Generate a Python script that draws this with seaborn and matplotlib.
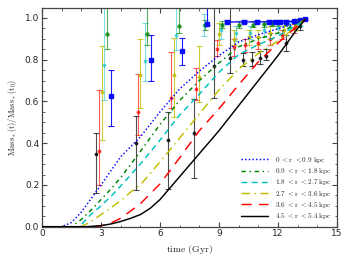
import numpy as np
import pandas as pd
import matplotlib
matplotlib.use('Agg')
import matplotlib.pyplot as plt
import seaborn as sns
from matplotlib.ticker import MultipleLocator

sns.set_style('ticks')
plt.rcParams['mathtext.fontset'] = 'cm'
plt.rcParams['font.family'] = ['DejaVu Sans']

# ---------------- data ----------------
r_edges = [0, 0.9, 1.8, 2.7, 3.6, 4.5, 5.4]

# cumulative stellar mass curves (time in Gyr, fraction)
blue_t = [0, 1.0, 1.5, 2.0, 2.5, 3.0, 4.0, 5.0, 6.0, 7.0, 8.0, 9.0, 10.0, 11.0, 12.0, 13.0, 13.4]
blue_v = [0, 0, 0.02, 0.07, 0.135, 0.2, 0.335, 0.43, 0.55, 0.66, 0.745, 0.82, 0.885, 0.92, 0.948, 0.978, 0.995]

green_t = [0, 1.5, 2.0, 2.5, 3.0, 3.5, 4.0, 5.0, 6.0, 7.0, 8.0, 9.0, 10.0, 11.0, 12.0, 13.0, 13.4]
green_v = [0, 0, 0.035, 0.08, 0.13, 0.18, 0.235, 0.36, 0.49, 0.605, 0.70, 0.785, 0.862, 0.90, 0.928, 0.972, 0.995]

cyan_t = [0, 1.85, 2.0, 2.5, 3.0, 3.5, 4.0, 5.0, 6.0, 7.0, 8.0, 9.0, 10.0, 11.0, 12.0, 13.0, 13.4]
cyan_v = [0, 0, 0.01, 0.06, 0.1, 0.145, 0.195, 0.3, 0.415, 0.535, 0.635, 0.74, 0.825, 0.872, 0.913, 0.968, 0.995]

yellow_t = [0, 2.0, 2.5, 3.0, 3.5, 4.0, 4.5, 5.0, 6.0, 7.0, 8.0, 9.0, 10.0, 11.0, 12.0, 13.0, 13.4]
yellow_v = [0, 0, 0.025, 0.058, 0.09, 0.125, 0.165, 0.2, 0.31, 0.425, 0.54, 0.655, 0.755, 0.83, 0.89, 0.963, 0.995]

red_t = [0, 2.6, 3.0, 3.5, 4.0, 4.5, 5.0, 6.0, 7.0, 8.0, 9.0, 10.0, 11.0, 12.0, 13.0, 13.4]
red_v = [0, 0, 0.004, 0.018, 0.04, 0.075, 0.11, 0.205, 0.33, 0.46, 0.565, 0.68, 0.79, 0.88, 0.963, 0.995]

black_t = [0, 2.27, 3.0, 3.5, 4.0, 4.5, 5.0, 5.5, 6.0, 7.0, 8.0, 9.0, 10.0, 11.0, 12.0, 13.0, 13.4]
black_v = [0, 0, 0.005, 0.013, 0.025, 0.04, 0.058, 0.088, 0.13, 0.24, 0.35, 0.46, 0.58, 0.70, 0.82, 0.95, 0.995]

# error-bar measurements: time, value, lower bound, upper bound
eb_black_t = [2.76, 4.78, 6.43, 7.73, 8.74, 9.58, 10.2, 10.7, 11.1, 11.4, 12.4, 13.1]
eb_black_y = [0.35, 0.40, 0.417, 0.451, 0.77, 0.81, 0.80, 0.80, 0.81, 0.82, 0.88, 0.96]
eb_black_lo = [0.16, 0.175, 0.179, 0.231, 0.615, 0.735, 0.77, 0.77, 0.78, 0.80, 0.84, 0.94]
eb_black_hi = [0.45, 0.53, 0.55, 0.613, 1.2, 1.2, 0.83, 0.835, 0.84, 0.85, 0.92, 0.98]

eb_red_t = [2.88, 4.9, 6.58, 7.85, 8.9, 9.75, 10.33, 11.0, 11.6, 12.2, 12.8]
eb_red_y = [0.365, 0.548, 0.618, 0.66, 0.853, 0.86, 0.87, 0.88, 0.90, 0.92, 0.95]
eb_red_lo = [0.20, 0.44, 0.57, 0.605, 0.82, 0.82, 0.837, 0.85, 0.87, 0.90, 0.93]
eb_red_hi = [0.655, 0.731, 0.837, 0.761, 0.893, 0.90, 0.90, 0.91, 0.93, 0.94, 0.97]

eb_yellow_t = [3.04, 5.0, 6.73, 8.0, 8.99, 9.78, 10.5, 11.0, 11.6, 12.3, 12.9]
eb_yellow_y = [0.643, 0.726, 0.726, 0.718, 0.925, 0.90, 0.91, 0.91, 0.93, 0.94, 0.96]
eb_yellow_lo = [0.415, 0.567, 0.527, 0.596, 0.87, 0.87, 0.87, 0.87, 0.90, 0.92, 0.94]
eb_yellow_hi = [0.865, 0.898, 0.905, 0.866, 0.978, 0.94, 0.94, 0.94, 0.96, 0.96, 0.98]

eb_cyan_t = [3.17, 5.25, 6.83, 8.23, 9.1, 9.86, 10.6, 11.3, 12.0, 12.6, 13.1]
eb_cyan_y = [0.774, 0.796, 0.92, 0.965, 0.94, 0.93, 0.93, 0.94, 0.95, 0.96, 0.97]
eb_cyan_lo = [0.607, 0.696, 0.847, 0.914, 0.90, 0.89, 0.90, 0.91, 0.93, 0.94, 0.96]
eb_cyan_hi = [1.2, 0.974, 1.2, 1.02, 0.973, 0.96, 0.96, 0.97, 0.97, 0.98, 0.99]

eb_green_t = [3.33, 5.33, 6.97, 8.3, 9.15, 10.0, 10.75, 11.3, 11.67, 12.0, 12.4, 12.9]
eb_green_y = [0.925, 0.925, 0.962, 0.965, 0.968, 0.968, 0.968, 0.97, 0.97, 0.975, 0.975, 0.985]
eb_green_lo = [0.85, 0.87, 0.93, 0.94, 0.95, 0.95, 0.955, 0.955, 0.96, 0.96, 0.965, 0.975]
eb_green_hi = [1.2, 1.2, 1.2, 0.99, 0.985, 0.985, 0.985, 0.985, 0.985, 0.99, 0.99, 0.995]

eb_blue_t = [3.49, 5.52, 7.14, 8.4, 9.41, 10.25, 10.92, 11.52, 11.85, 12.1, 12.43, 12.8, 13.1, 13.37]
eb_blue_y = [0.626, 0.80, 0.84, 0.973, 0.981, 0.981, 0.981, 0.981, 0.981, 0.981, 0.981, 0.985, 0.99, 0.995]
eb_blue_lo = [0.484, 0.70, 0.777, 0.965, 0.975, 0.975, 0.975, 0.975, 0.975, 0.975, 0.975, 0.98, 0.985, 0.99]
eb_blue_hi = [0.75, 0.918, 0.903, 1.2, 0.99, 0.99, 0.99, 0.99, 0.99, 0.99, 0.99, 0.99, 0.995, 1.0]

# ---------------- figure ----------------
fig = plt.figure(figsize=(3.48, 2.61), dpi=100)
ax = fig.add_axes([0.1207, 0.1314, 0.8477, 0.8398])

labels = [r'$\mathrm{%g\ }{<}\mathrm{r\ }{<}\mathrm{%g\ kpc}$' % (a, b)
          for a, b in zip(r_edges[:-1], r_edges[1:])]

errsets = [
    (eb_black_t, eb_black_y, eb_black_lo, eb_black_hi, 'k', 'o', 1.8, 0.7),
    (eb_red_t, eb_red_y, eb_red_lo, eb_red_hi, 'r', 'o', 1.8, 0.65),
    (eb_yellow_t, eb_yellow_y, eb_yellow_lo, eb_yellow_hi, 'y', 'o', 1.8, 0.8),
    (eb_cyan_t, eb_cyan_y, eb_cyan_lo, eb_cyan_hi, 'c', 'o', 1.8, 0.5),
    (eb_green_t, eb_green_y, eb_green_lo, eb_green_hi, 'g', 'o', 2.3, 0.65),
    (eb_blue_t, eb_blue_y, eb_blue_lo, eb_blue_hi, 'b', 's', 2.8, 0.9),
]
for t, y, lo, hi, col, mk, ms, al in errsets:
    t = np.asarray(t); y = np.asarray(y)
    yerr = [y - np.asarray(lo), np.asarray(hi) - y]
    ax.errorbar(t, y, yerr=yerr, fmt=mk, color=col, ms=ms, capsize=2.0,
                elinewidth=0.8, capthick=0.8, alpha=al, zorder=2)

# connecting line for the saturated blue points
bt = np.asarray(eb_blue_t); by = np.asarray(eb_blue_y)
sel = bt >= 9.4
sns.lineplot(x=bt[sel], y=by[sel], color='b', lw=0.9, ax=ax, zorder=2)

curves = [
    (blue_t, blue_v, 'b', (0, (1, 1.5))),
    (green_t, green_v, 'g', (0, (3, 2.5, 1, 2.5))),
    (cyan_t, cyan_v, 'c', (0, (4, 3))),
    (yellow_t, yellow_v, 'y', (0, (6, 3, 1, 3))),
    (red_t, red_v, 'r', (0, (7, 5))),
    (black_t, black_v, 'k', '-'),
]
for (t, v, col, ls), lab in zip(curves, labels):
    sns.lineplot(x=t, y=v, color=col, linestyle=ls, lw=1.05, label=lab, ax=ax, zorder=3)

ax.set_xlim(0, 15)
ax.set_ylim(0, 1.05)
ax.xaxis.set_major_locator(MultipleLocator(3))
ax.xaxis.set_minor_locator(MultipleLocator(1))
ax.yaxis.set_major_locator(MultipleLocator(0.2))
ax.yaxis.set_minor_locator(MultipleLocator(0.05))
ax.tick_params(which='both', direction='in', top=True, right=True, labelsize=6.5,
               color='#444444', pad=2)
ax.tick_params(which='major', length=3.5, width=0.8)
ax.tick_params(which='minor', length=1.8, width=0.6)
for s in ax.spines.values():
    s.set_color('#444444')
    s.set_linewidth(0.9)

ax.set_xlabel(r'$\mathrm{time\ (Gyr)}$', fontsize=7, labelpad=3)
ax.set_ylabel(r'$\mathrm{Mass_*(t)/Mass_*(t_0)}$', fontsize=6, labelpad=4)

leg = ax.legend(loc='lower right', frameon=False, fontsize=5.2, handlelength=3.8,
                labelspacing=0.18, handletextpad=0.9, borderaxespad=0.35)

fig.savefig('out.png', dpi=100)
